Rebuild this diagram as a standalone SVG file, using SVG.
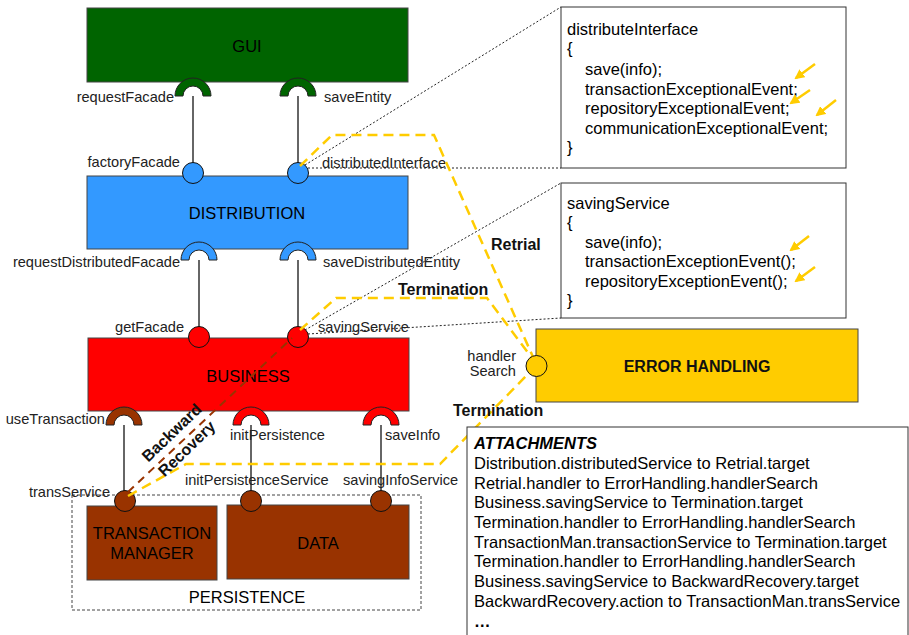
<svg xmlns="http://www.w3.org/2000/svg" width="909" height="635" viewBox="0 0 909 635">
<defs>
<style>
text{font-family:"Liberation Sans",Arial,sans-serif;}
.node{stroke:#444;stroke-width:1;}
.lbl{font-size:16.5px;fill:#000;text-anchor:middle;}
.port{font-size:14.6px;fill:#222;}
.end{text-anchor:end;}
.bold{font-size:16px;font-weight:bold;fill:#111;}
.stem{stroke:#666;stroke-width:2;fill:none;}
.pin{stroke:#111;stroke-width:1;}
.sock{stroke:#222;stroke-width:1;}
.yd{fill:none;stroke:#ffcc00;stroke-width:2.5;stroke-dasharray:10,6;}
.bd{fill:none;stroke:#993300;stroke-width:2;stroke-dasharray:8,6;}
.dot{fill:none;stroke:#222;stroke-width:1;stroke-dasharray:2,2;}
.box{fill:#fff;stroke:#333;stroke-width:1;}
.code{font-size:16.5px;fill:#000;}
.ya{stroke:#ffcc00;stroke-width:2.5;fill:none;marker-end:url(#ah);}
</style>
<marker id="ah" viewBox="0 0 10 10" refX="8" refY="5" markerWidth="4" markerHeight="4" orient="auto">
<path d="M0,0 L10,5 L0,10 z" fill="#ffcc00"/>
</marker>
</defs>
<rect width="909" height="635" fill="#fff"/>

<g id="persistence">
<rect x="72" y="495" width="349" height="115" fill="none" stroke="#444" stroke-width="1" stroke-dasharray="3,2"/>
<text class="lbl" x="247" y="603">PERSISTENCE</text>
</g>

<g id="connectors">
<line class="stem" x1="193" y1="96" x2="193" y2="173"/>
<line class="stem" x1="298" y1="96" x2="298" y2="173"/>
<line class="stem" x1="199" y1="260" x2="199" y2="337"/>
<line class="stem" x1="298" y1="260" x2="298" y2="337"/>
<line class="stem" x1="124" y1="425" x2="124" y2="501"/>
<line class="stem" x1="251" y1="425" x2="251" y2="501"/>
<line class="stem" x1="381" y1="425" x2="381" y2="501"/>
<line class="dot" x1="305" y1="165" x2="561" y2="7"/>
<line class="dot" x1="308" y1="168" x2="561" y2="168"/>
<line class="dot" x1="305" y1="330" x2="561" y2="183"/>
<line class="dot" x1="308" y1="334" x2="561" y2="318"/>
</g>

<g id="gui">
<rect class="node" x="87" y="8" width="321" height="74" fill="#006400"/>
<text class="lbl" x="247" y="52">GUI</text>
<path class="sock" fill="#006400" d="M175,96 A18,18 0 0 1 211,96 L203,96 A10,10 0 0 0 183,96 Z"/>
<path class="sock" fill="#006400" d="M280,96 A18,18 0 0 1 316,96 L308,96 A10,10 0 0 0 288,96 Z"/>
<text class="port end" x="174" y="102">requestFacade</text>
<text class="port" x="324" y="102">saveEntity</text>
</g>

<g id="distribution">
<rect class="node" x="87" y="176" width="321" height="73" fill="#3399ff"/>
<text class="lbl" x="247" y="219">DISTRIBUTION</text>
<circle class="pin" cx="193" cy="173" r="10.5" fill="#3399ff"/>
<circle class="pin" cx="298" cy="173" r="10.5" fill="#3399ff"/>
<path class="sock" fill="#3399ff" d="M181,260 A18,18 0 0 1 217,260 L209,260 A10,10 0 0 0 189,260 Z"/>
<path class="sock" fill="#3399ff" d="M280,260 A18,18 0 0 1 316,260 L308,260 A10,10 0 0 0 288,260 Z"/>
<text class="port end" x="180" y="167">factoryFacade</text>
<text class="port" x="322" y="168">distributedInterface</text>
<text class="port end" x="180" y="267">requestDistributedFacade</text>
<text class="port" x="323" y="267">saveDistributedEntity</text>
</g>

<g id="business">
<rect class="node" x="88" y="338" width="321" height="73" fill="#ff0000"/>
<text class="lbl" x="248" y="382">BUSINESS</text>
<circle class="pin" cx="199" cy="337" r="10.5" fill="#ff0000"/>
<circle class="pin" cx="298" cy="337" r="10.5" fill="#ff0000"/>
<path class="sock" fill="#993300" d="M106,425 A18,18 0 0 1 142,425 L134,425 A10,10 0 0 0 114,425 Z"/>
<path class="sock" fill="#ff0000" d="M233,425 A18,18 0 0 1 269,425 L261,425 A10,10 0 0 0 241,425 Z"/>
<path class="sock" fill="#ff0000" d="M363,425 A18,18 0 0 1 399,425 L391,425 A10,10 0 0 0 371,425 Z"/>
<text class="port end" x="184" y="332">getFacade</text>
<text class="port" x="318" y="332">savingService</text>
<text class="port end" x="105" y="424">useTransaction</text>
<text class="port" x="230" y="440">initPersistence</text>
<text class="port" x="385" y="440">saveInfo</text>
</g>

<g id="transaction-manager">
<rect class="node" x="87" y="506" width="130" height="74" fill="#993300"/>
<text class="lbl" x="152" y="539">TRANSACTION</text>
<text class="lbl" x="152" y="559">MANAGER</text>
<circle class="pin" cx="125" cy="501" r="10.5" fill="#993300"/>
<text class="port end" x="110" y="497">transService</text>
</g>

<g id="data">
<rect class="node" x="227" y="505" width="182" height="74" fill="#993300"/>
<text class="lbl" x="318" y="549">DATA</text>
<circle class="pin" cx="251" cy="501" r="10.5" fill="#993300"/>
<circle class="pin" cx="381" cy="501" r="10.5" fill="#993300"/>
<text class="port" x="185" y="485">initPersistenceService</text>
<text class="port" x="343" y="485">savingInfoService</text>
</g>

<g id="error-connectors">
<polyline class="yd" points="300,166 332,135 434,135 533,357"/>
<polyline class="yd" points="300,330 336,298 487,298 532,358"/>
<polyline class="yd" points="128,496 186,464 440,464 530,372"/>
<line class="bd" x1="128" y1="492" x2="292" y2="338"/>
<text class="bold" x="491" y="250">Retrial</text>
<text class="bold" x="398" y="295">Termination</text>
<text class="bold" x="453" y="416">Termination</text>
<text class="bold" text-anchor="middle" transform="translate(172,433) rotate(-44)" y="5">Backward</text>
<text class="bold" text-anchor="middle" transform="translate(187,449) rotate(-44)" y="5">Recovery</text>
</g>

<g id="error-handling">
<rect class="node" x="536" y="329" width="322" height="73" fill="#ffcc00"/>
<text class="bold" x="697" y="372" text-anchor="middle" fill="#000">ERROR HANDLING</text>
<circle class="pin" cx="536.5" cy="366" r="10.5" fill="#ffcc00"/>
<text class="port end" x="516" y="361">handler</text>
<text class="port end" x="516" y="376">Search</text>
</g>

<g id="distributeInterface-box">
<rect class="box" x="561" y="7" width="285" height="161"/>
<text class="code" x="567" y="35">distributeInterface</text>
<text class="code" x="567" y="54">{</text>
<text class="code" x="585" y="75">save(info);</text>
<text class="code" x="585" y="95">transactionExceptionalEvent;</text>
<text class="code" x="585" y="114">repositoryExceptionalEvent;</text>
<text class="code" x="585" y="134">communicationExceptionalEvent;</text>
<text class="code" x="567" y="153">}</text>
<line class="ya" x1="815" y1="64" x2="796" y2="78"/>
<line class="ya" x1="810" y1="90" x2="791" y2="103"/>
<line class="ya" x1="836" y1="100" x2="817" y2="115"/>
</g>

<g id="savingService-box">
<rect class="box" x="561" y="183" width="285" height="135"/>
<text class="code" x="567" y="209">savingService</text>
<text class="code" x="567" y="228">{</text>
<text class="code" x="585" y="248">save(info);</text>
<text class="code" x="585" y="267">transactionExceptionEvent();</text>
<text class="code" x="585" y="287">repositoryExceptionEvent();</text>
<text class="code" x="567" y="306">}</text>
<line class="ya" x1="809" y1="236" x2="791" y2="250"/>
<line class="ya" x1="815" y1="267" x2="796" y2="281"/>
</g>

<g id="attachments">
<rect class="box" x="467" y="427" width="441" height="220"/>
<text class="code" x="474" y="449" font-weight="bold" font-style="italic">ATTACHMENTS</text>
<text class="code" x="474" y="469">Distribution.distributedService to Retrial.target</text>
<text class="code" x="474" y="489">Retrial.handler to ErrorHandling.handlerSearch</text>
<text class="code" x="474" y="508">Business.savingService to Termination.target</text>
<text class="code" x="474" y="528">Termination.handler to ErrorHandling.handlerSearch</text>
<text class="code" x="474" y="548">TransactionMan.transactionService to Termination.target</text>
<text class="code" x="474" y="567">Termination.handler to ErrorHandling.handlerSearch</text>
<text class="code" x="474" y="587">Business.savingService to BackwardRecovery.target</text>
<text class="code" x="474" y="607">BackwardRecovery.action to TransactionMan.transService</text>
<text class="code" x="474" y="627" font-weight="bold">…</text>
</g>
</svg>
